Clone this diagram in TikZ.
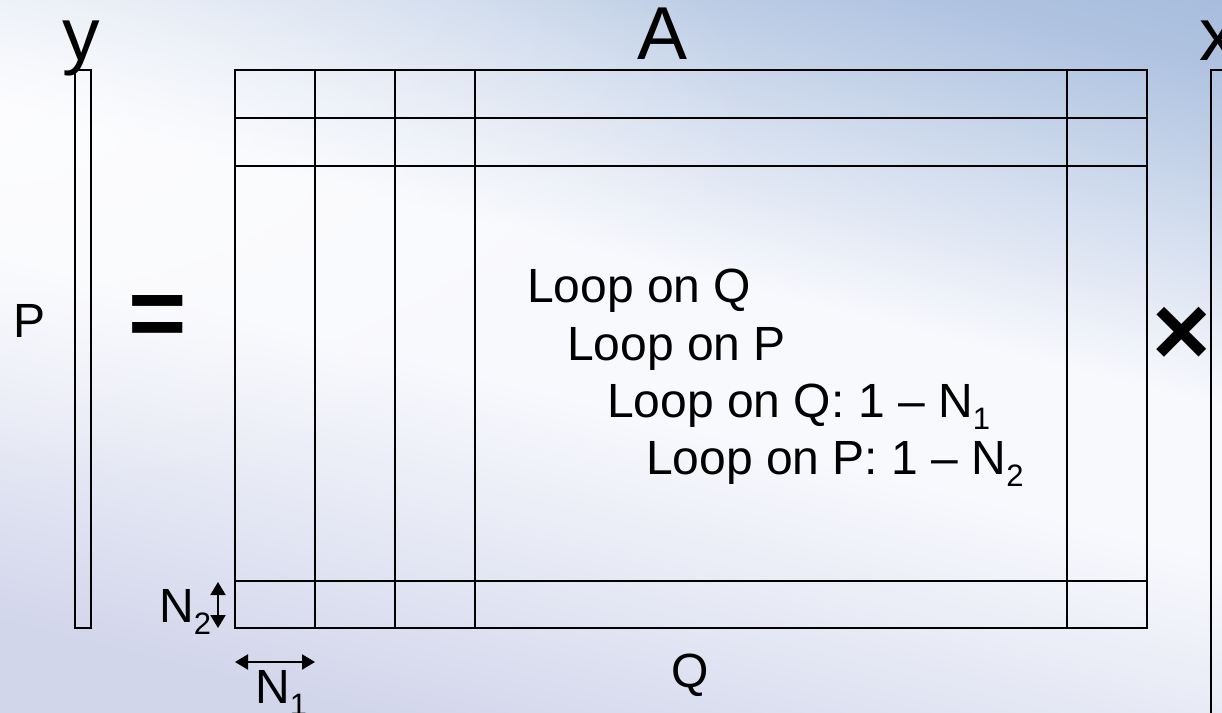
\documentclass[tikz,border=0pt]{standalone}
\usepackage{fontspec}
\setmainfont{Liberation Sans}
\usepackage{xcolor}
\usetikzlibrary{arrows.meta, fadings}
\definecolor{bgtop}{RGB}{128,160,206}
\definecolor{bgband}{RGB}{248,249,253}
\definecolor{bgbottom}{RGB}{210,214,235}
\pgfdeclareverticalshading{slidebg}{100bp}{color(0bp)=(bgbottom); color(25bp)=(bgbottom); color(47bp)=(bgband); color(56bp)=(bgband); color(76bp)=(bgtop!60!bgband); color(100bp)=(bgtop)}
\tikzfading[name=glow out, inner color=transparent!0, outer color=transparent!100]
\newcommand{\lowidx}[1]{\raisebox{-0.26em}{\fontsize{31}{31}\selectfont #1}}
\tikzset{every node/.append style={font=\fontsize{48}{57}\selectfont, inner sep=0pt}}
\tikzset{
  grid line/.style={line width=2pt},
  big label/.style={font=\fontsize{75}{75}\selectfont},
  op sign/.style={font=\fontsize{100}{100}\selectfont\bfseries},
  dim arrow/.style={line width=2pt, {Triangle[width=15pt,length=13pt]}-{Triangle[width=15pt,length=13pt]}}
}

\begin{document}
\begin{tikzpicture}[x=1pt, y=-1pt]
    \useasboundingbox (0,0) rectangle (1222,712);
    \clip (0,0) rectangle (1222,712);
    \shade[shading=slidebg, shading angle=-14] (0,0) rectangle (1222,712);
    \fill[white, opacity=0.6, path fading=glow out] (0,120) ellipse (760 and 380);

    % vector y
    \draw[grid line] (75,70) rectangle (91,628);
    \node[big label, anchor=base] (ylab) at (81,60) {y};
    \node[anchor=base] (plab) at (30,337) {P};

    % matrix A
    \coordinate (Anw) at (235,70);
    \coordinate (Ase) at (1147,628);
    \draw[grid line] (Anw) rectangle (Ase);
    \foreach \c in {315,395,475,1067}
        \draw[grid line] (\c,70) -- (\c,628);
    \foreach \r in {118,166,581}
        \draw[grid line] (235,\r) -- (1147,\r);
    \node[big label, anchor=base] (alab) at (663,59) {A};
    \node[anchor=base] (qlab) at (690,687) {Q};

    % vector x
    \draw[grid line] (1211,70) rectangle (1300,1000);
    \node[big label, anchor=base west] (xlab) at (1199,60) {x};

    \node[op sign] (eq) at (157.5,321) {=};
    \node[op sign] (times) at (1182,336) {×};

    % loop nest
    \node[anchor=base west] (loopa) at (527,302) {Loop on Q};
    \node[anchor=base west] (loopb) at (567,360) {Loop on P};
    \node[anchor=base west] (loopc) at (607,417) {Loop on Q: 1 – N\lowidx{1}};
    \node[anchor=base west] (loopd) at (646,474) {Loop on P: 1 – N\lowidx{2}};

    % block sizes
    \coordinate (ntwotop) at (218,582);
    \coordinate (ntwobot) at (218,628);
    \draw[dim arrow] (ntwotop) -- (ntwobot);
    \node[anchor=base west] (ntwo) at (159,622) {N\lowidx{2}};
    \coordinate (nonel) at (235,662);
    \coordinate (noner) at (315,662);
    \draw[dim arrow] (nonel) -- (noner);
    \node[anchor=base west] (none) at (255,703) {N\lowidx{1}};
\end{tikzpicture}
\end{document}
